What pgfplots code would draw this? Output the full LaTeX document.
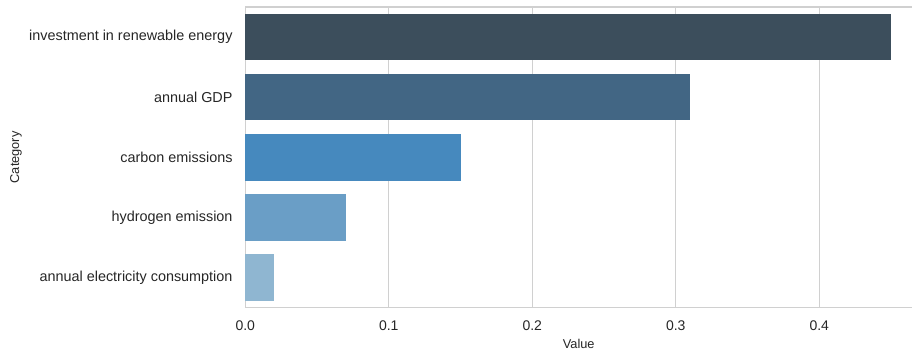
\documentclass[border=0pt]{standalone}
\usepackage{pgfplots}
\pgfplotsset{compat=1.18}
\usepackage{fontspec}
\setmainfont{Liberation Sans}
\definecolor{cA}{HTML}{3C4E5C}
\definecolor{cB}{HTML}{426684}
\definecolor{cC}{HTML}{4689BE}
\definecolor{cD}{HTML}{6A9EC6}
\definecolor{cE}{HTML}{8FB6D1}
\definecolor{gridc}{HTML}{D0D0D0}
\definecolor{txt}{HTML}{262626}
\begin{document}
\begin{tikzpicture}
\useasboundingbox (-245.3pt,-45.3pt) rectangle (666.7pt,307.7pt);
\begin{axis}[
  at={(0pt,0pt)}, anchor=south west,
  scale only axis, width=668pt, height=300.7pt,
  xmin=0, xmax=0.46551, ymin=-0.5, ymax=4.5, y dir=reverse,
  xbar, bar width=46.5pt, bar shift=0pt,
  xtick={0,0.1,0.2,0.3,0.4},
  xticklabels={0.0,0.1,0.2,0.3,0.4},
  ytick={0,1,2,3,4},
  yticklabels={investment in renewable energy,annual GDP,carbon emissions,hydrogen emission,annual electricity consumption},
  major tick length=0pt,
  xtick style={draw=none}, ytick style={draw=none},
  xmajorgrids, ymajorgrids=false,
  grid style={gridc, line width=1.2pt},
  axis line style={gridc, line width=1.3pt},
  xticklabel style={font=\fontsize{14}{16}\selectfont, text=txt, inner sep=0pt, anchor=north, yshift=-13pt},
  yticklabel style={font=\fontsize{14.4}{16}\selectfont, text=txt, inner sep=0pt, anchor=east, xshift=-12.6pt},
  xlabel={Value}, ylabel={Category},
  xlabel style={font=\fontsize{12.8}{14}\selectfont, text=txt, at={(axis description cs:0.4991,-0.1197)}, anchor=center, inner sep=0pt},
  ylabel style={font=\fontsize{12.8}{14}\selectfont, text=txt, at={(axis description cs:-0.3433,0.5)}, anchor=center, inner sep=0pt},
  clip=false,
]
\addplot[fill=cA, draw=none] coordinates {(0.45,0)};
\addplot[fill=cB, draw=none] coordinates {(0.31,1)};
\addplot[fill=cC, draw=none] coordinates {(0.15,2)};
\addplot[fill=cD, draw=none] coordinates {(0.07,3)};
\addplot[fill=cE, draw=none] coordinates {(0.02,4)};
\end{axis}
\end{tikzpicture}
\end{document}
